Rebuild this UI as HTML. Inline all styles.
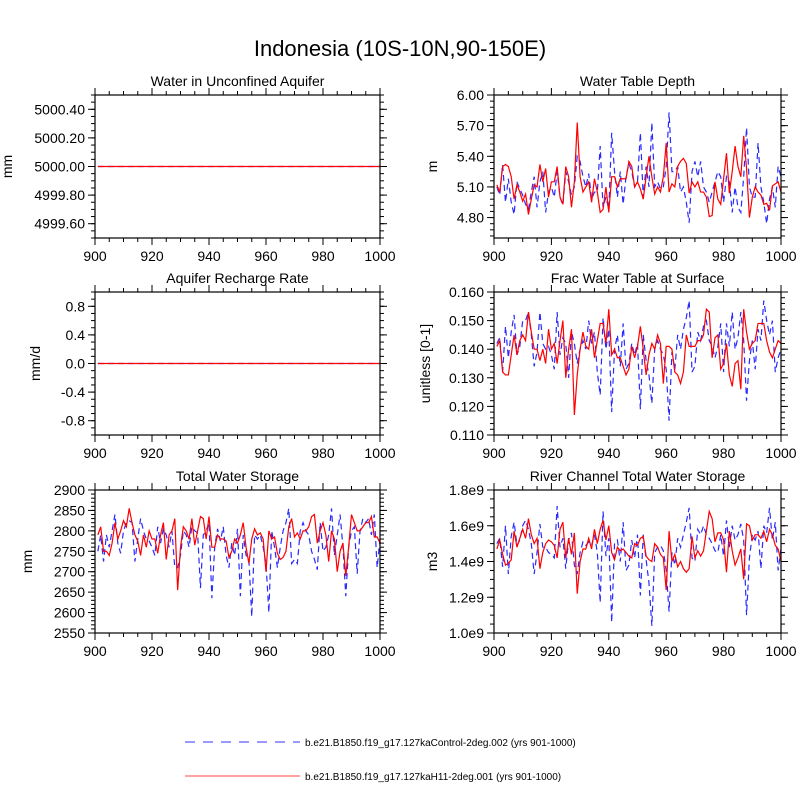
<!DOCTYPE html>
<html><head><meta charset="utf-8"><style>
html,body{margin:0;padding:0;background:#fff}
svg{display:block;font-family:"Liberation Sans",sans-serif}
</style></head><body>
<svg id="chart" width="800" height="800" viewBox="0 0 800 800">
<text x="400" y="56" font-size="22" text-anchor="middle">Indonesia (10S-10N,90-150E)</text>
<g>
<line x1="185" y1="742" x2="300" y2="742" stroke="#3333ff" stroke-width="1" stroke-dasharray="10,8"/>
<text x="305" y="746" font-size="10">b.e21.B1850.f19_g17.127kaControl-2deg.002 (yrs 901-1000)</text>
<line x1="185" y1="776" x2="300" y2="776" stroke="#ff4444" stroke-width="1"/>
<text x="305" y="780" font-size="10">b.e21.B1850.f19_g17.127kaH11-2deg.001 (yrs 901-1000)</text>
</g>
</svg>
<script>
const years = Array.from({length:100},(_,i)=>901+i);
const xTicks = [900,920,940,960,980,1000];
const aquiferRed = Array(100).fill(5000);
const aquiferBlue = Array(100).fill(5000);
const rechargeRed = Array(100).fill(0);
const rechargeBlue = Array(100).fill(0);
const wtdRed = [5.12,5.05,5.3,5.32,5.3,5.2,4.98,5.12,5.05,4.96,5.03,4.83,4.98,5.12,5.1,5.32,5.15,5.28,5.0,5.15,5.15,5.3,5.0,4.93,5.3,5.2,4.9,5.15,5.73,5.2,5.05,5.1,5.15,4.95,5.18,5.05,4.85,4.88,5.1,4.85,5.2,5.2,5.1,5.18,5.18,5.18,5.35,5.3,5.1,5.15,5.08,4.98,5.2,5.4,5.2,5.03,5.1,5.05,5.2,5.53,5.05,5.13,5.1,5.3,5.35,5.38,5.33,5.04,5.15,5.1,5.15,5.05,5.05,5.0,4.81,4.82,5.15,4.98,4.93,5.18,5.43,5.04,5.25,5.5,5.3,5.2,5.6,5.28,4.8,5.0,5.1,5.05,5.02,4.93,4.94,4.87,5.11,5.13,5.15,5.05];
const wtdBlue = [5.1,5.02,5.32,4.95,5.18,4.95,4.83,5.15,5.08,5.02,4.93,4.88,5.05,5.2,4.9,5.15,5.25,4.85,5.05,5.1,5.0,5.25,5.0,4.92,5.25,5.15,5.02,5.1,5.4,5.35,5.2,5.1,5.23,4.98,5.05,5.05,5.5,4.9,5.0,4.88,5.63,5.25,5.0,5.25,4.93,5.2,5.33,5.25,5.1,5.15,5.63,5.0,5.3,5.1,5.73,5.1,5.15,5.08,5.1,5.3,5.83,5.25,5.25,5.3,5.05,5.1,4.95,4.75,5.25,5.35,5.2,5.35,5.1,5.05,4.95,5.05,5.15,5.25,5.2,4.95,5.2,5.15,4.85,5.1,4.9,4.85,5.2,5.68,5.1,5.0,5.0,5.53,5.1,4.95,4.74,4.98,5.1,4.9,5.3,5.2];
const fracRed = [0.141,0.143,0.132,0.131,0.131,0.138,0.145,0.138,0.143,0.145,0.143,0.153,0.146,0.140,0.140,0.136,0.140,0.135,0.147,0.140,0.142,0.135,0.143,0.150,0.130,0.140,0.147,0.117,0.131,0.140,0.146,0.141,0.140,0.147,0.137,0.143,0.149,0.149,0.142,0.154,0.138,0.140,0.137,0.137,0.134,0.131,0.133,0.141,0.137,0.141,0.148,0.140,0.131,0.138,0.142,0.140,0.145,0.142,0.128,0.141,0.141,0.140,0.132,0.131,0.128,0.132,0.145,0.141,0.141,0.141,0.143,0.143,0.145,0.154,0.153,0.137,0.144,0.145,0.133,0.135,0.142,0.131,0.127,0.135,0.136,0.126,0.154,0.146,0.140,0.142,0.143,0.149,0.149,0.149,0.143,0.139,0.137,0.140,0.143,0.142];
const fracBlue = [0.142,0.144,0.132,0.148,0.137,0.146,0.152,0.138,0.141,0.150,0.150,0.153,0.145,0.134,0.139,0.153,0.142,0.140,0.141,0.138,0.133,0.153,0.138,0.144,0.142,0.130,0.146,0.142,0.135,0.140,0.143,0.140,0.150,0.142,0.146,0.132,0.124,0.151,0.140,0.147,0.118,0.140,0.145,0.134,0.149,0.133,0.135,0.142,0.138,0.142,0.119,0.145,0.136,0.131,0.121,0.140,0.143,0.140,0.138,0.133,0.115,0.139,0.133,0.145,0.140,0.147,0.151,0.157,0.132,0.134,0.146,0.143,0.148,0.150,0.143,0.141,0.137,0.141,0.149,0.132,0.149,0.141,0.153,0.140,0.144,0.153,0.143,0.122,0.136,0.143,0.133,0.147,0.143,0.157,0.150,0.145,0.150,0.132,0.137,0.140];
const twsRed = [2790,2810,2750,2750,2740,2770,2820,2780,2800,2825,2810,2855,2820,2790,2775,2740,2790,2760,2800,2780,2780,2745,2790,2820,2730,2790,2800,2830,2655,2760,2810,2800,2780,2830,2765,2800,2835,2830,2780,2835,2760,2760,2790,2780,2780,2775,2735,2750,2780,2770,2790,2820,2760,2720,2780,2805,2790,2795,2780,2700,2800,2780,2785,2745,2730,2735,2750,2810,2830,2785,2795,2780,2800,2800,2810,2835,2840,2770,2800,2820,2790,2725,2800,2780,2700,2750,2770,2690,2760,2840,2820,2800,2800,2810,2820,2820,2835,2785,2785,2770];
const twsBlue = [2750,2790,2725,2790,2760,2800,2840,2770,2745,2800,2820,2825,2820,2725,2780,2830,2800,2780,2775,2760,2740,2810,2770,2805,2790,2760,2800,2710,2710,2740,2800,2790,2760,2810,2800,2795,2660,2790,2800,2820,2635,2760,2805,2775,2810,2740,2710,2770,2740,2805,2640,2790,2740,2730,2590,2790,2780,2790,2760,2720,2600,2800,2760,2710,2760,2800,2820,2855,2720,2730,2720,2800,2820,2800,2790,2750,2730,2705,2820,2750,2760,2790,2855,2740,2790,2840,2760,2640,2760,2800,2810,2695,2800,2830,2820,2830,2790,2840,2710,2780];
const riverRed = [1.47,1.52,1.44,1.38,1.39,1.41,1.57,1.48,1.53,1.58,1.53,1.64,1.55,1.50,1.53,1.36,1.45,1.50,1.52,1.51,1.49,1.42,1.58,1.62,1.42,1.53,1.44,1.56,1.22,1.40,1.47,1.47,1.53,1.47,1.58,1.50,1.58,1.63,1.52,1.60,1.45,1.41,1.48,1.46,1.47,1.45,1.43,1.42,1.50,1.49,1.53,1.54,1.43,1.41,1.40,1.50,1.48,1.44,1.42,1.24,1.57,1.40,1.44,1.37,1.40,1.36,1.34,1.36,1.54,1.42,1.46,1.43,1.46,1.57,1.68,1.64,1.51,1.56,1.56,1.52,1.34,1.57,1.46,1.38,1.42,1.47,1.30,1.61,1.60,1.52,1.55,1.55,1.53,1.57,1.51,1.58,1.55,1.49,1.47,1.40];
const riverBlue = [1.50,1.53,1.37,1.60,1.33,1.54,1.62,1.49,1.52,1.60,1.63,1.58,1.50,1.33,1.45,1.61,1.48,1.48,1.45,1.44,1.42,1.71,1.48,1.53,1.36,1.52,1.56,1.38,1.33,1.45,1.51,1.49,1.51,1.49,1.55,1.45,1.17,1.68,1.43,1.53,1.06,1.50,1.52,1.40,1.62,1.35,1.38,1.52,1.42,1.55,1.21,1.55,1.41,1.28,1.04,1.45,1.48,1.49,1.46,1.35,1.12,1.45,1.38,1.53,1.48,1.55,1.62,1.70,1.42,1.40,1.58,1.55,1.60,1.55,1.53,1.50,1.46,1.45,1.55,1.43,1.63,1.48,1.60,1.52,1.55,1.61,1.52,1.10,1.42,1.55,1.52,1.57,1.36,1.60,1.56,1.70,1.52,1.62,1.35,1.47];
const aquiferTicks = [4999.6,4999.8,5000.0,5000.2,5000.4];
const aquiferTickLabels = ["4999.60","4999.80","5000.00","5000.20","5000.40"];
const rechargeTicks = [-0.8,-0.4,0,0.4,0.8];
const rechargeTickLabels = ["-0.8","-0.4","0.0","0.4","0.8"];
const wtdTicks = [4.8,5.1,5.4,5.7,6.0];
const wtdTickLabels = ["4.80","5.10","5.40","5.70","6.00"];
const fracTicks = [0.11,0.12,0.13,0.14,0.15,0.16];
const fracTickLabels = ["0.110","0.120","0.130","0.140","0.150","0.160"];
const twsTicks = [2550,2600,2650,2700,2750,2800,2850,2900];
const twsTickLabels = ["2550","2600","2650","2700","2750","2800","2850","2900"];
const riverTicks = [1.0,1.2,1.4,1.6,1.8];
const riverTickLabels = ["1.0e9","1.2e9","1.4e9","1.6e9","1.8e9"];

const NS='http://www.w3.org/2000/svg';
const svg=document.getElementById('chart');
function mk(tag,attrs,parent){const e=document.createElementNS(NS,tag);for(const k in attrs)e.setAttribute(k,attrs[k]);(parent||svg).appendChild(e);return e;}

function panel(cfg){
  const g=mk('g',{});
  
  
  const L=cfg.x0,R=cfg.x1,T=cfg.y0,B=cfg.y1;
  const xs=v=>L+(v-900)/100*(R-L);
  const ys=v=>B-(v-cfg.ymin)/(cfg.ymax-cfg.ymin)*(B-T);
  const t=mk('text',{x:(L+R)/2,y:T-9,'font-size':14,'text-anchor':'middle'},g);
  t.textContent=cfg.title;
  
  
  // ticks
  for(let yr=900;yr<=1000;yr+=5){
    const maj=yr%20===0, len=maj?7:4, x=xs(yr);
    mk('line',{x1:x,y1:B,x2:x,y2:B+len,stroke:'#000','stroke-width':1},g);
    mk('line',{x1:x,y1:T,x2:x,y2:T-len,stroke:'#000','stroke-width':1},g);
  }
  xTicks.forEach(v=>{
    const tx=mk('text',{x:xs(v),y:B+23,'font-size':14,'text-anchor':'middle'},g);
    tx.textContent=String(v);
    
    
  });
  const step=cfg.ticks[1]-cfg.ticks[0], ms=step/cfg.minor;
  for(let v=cfg.ticks[0]-step*3; v<=cfg.ymax+1e-9; v+=ms){
    if(v<cfg.ymin-1e-9) continue;
    const y=ys(v);
    mk('line',{x1:L,y1:y,x2:L-4,y2:y,stroke:'#000','stroke-width':1},g);
    mk('line',{x1:R,y1:y,x2:R+4,y2:y,stroke:'#000','stroke-width':1},g);
  }
  cfg.ticks.forEach((v,i)=>{
    const y=ys(v);
    mk('line',{x1:L,y1:y,x2:L-7,y2:y,stroke:'#000','stroke-width':1},g);
    mk('line',{x1:R,y1:y,x2:R+7,y2:y,stroke:'#000','stroke-width':1},g);
    const ty=mk('text',{x:L-10,y:y+5,'font-size':14,'text-anchor':'end'},g);
    ty.textContent=cfg.labels[i];
    
    
  });
  const yl=mk('text',{x:0,y:0,'font-size':14,'text-anchor':'middle',transform:`translate(${cfg.ylx},${(T+B)/2}) rotate(-90)`},g);
  yl.textContent=cfg.ylabel;
  
  
  const line=(data,color,dash,nm)=>{
    const p=mk('polyline',{points:data.map((v,i)=>xs(years[i]).toFixed(2)+','+ys(v).toFixed(2)).join(' '),fill:'none',stroke:color,'stroke-width':1.2,'stroke-dasharray':dash},g);
    
    
  };
  line(cfg.blue,'#2a2aff','6,4',cfg.name+'-control-series');
  line(cfg.red,'#ff0000','none',cfg.name+'-h11-series');
  const f=mk('rect',{x:L,y:T,width:R-L,height:B-T,fill:'none',stroke:'#000','stroke-width':1.2},g);
  
  
}
const LX=[95,380], RX=[494,781], R1=[95,238], R2=[292,435], R3=[490,633];
panel({name:'aquifer-water',title:'Water in Unconfined Aquifer',x0:LX[0],x1:LX[1],y0:R1[0],y1:R1[1],ymin:4999.5,ymax:5000.5,ticks:aquiferTicks,labels:aquiferTickLabels,minor:4,ylabel:'mm',ylx:12,red:aquiferRed,blue:aquiferBlue});
panel({name:'water-table-depth',title:'Water Table Depth',x0:RX[0],x1:RX[1],y0:R1[0],y1:R1[1],ymin:4.6,ymax:6.0,ticks:wtdTicks,labels:wtdTickLabels,minor:5,ylabel:'m',ylx:437,red:wtdRed,blue:wtdBlue});
panel({name:'aquifer-recharge',title:'Aquifer Recharge Rate',x0:LX[0],x1:LX[1],y0:R2[0],y1:R2[1],ymin:-1,ymax:1,ticks:rechargeTicks,labels:rechargeTickLabels,minor:4,ylabel:'mm/d',ylx:40,red:rechargeRed,blue:rechargeBlue});
panel({name:'frac-water-table',title:'Frac Water Table at Surface',x0:RX[0],x1:RX[1],y0:R2[0],y1:R2[1],ymin:0.11,ymax:0.16,ticks:fracTicks,labels:fracTickLabels,minor:5,ylabel:'unitless [0-1]',ylx:430,red:fracRed,blue:fracBlue});
panel({name:'total-water-storage',title:'Total Water Storage',x0:LX[0],x1:LX[1],y0:R3[0],y1:R3[1],ymin:2550,ymax:2900,ticks:twsTicks,labels:twsTickLabels,minor:5,ylabel:'mm',ylx:32,red:twsRed,blue:twsBlue});
panel({name:'river-storage',title:'River Channel Total Water Storage',x0:RX[0],x1:RX[1],y0:R3[0],y1:R3[1],ymin:1.0,ymax:1.8,ticks:riverTicks,labels:riverTickLabels,minor:4,ylabel:'m3',ylx:437,red:riverRed,blue:riverBlue});
</script>
</body></html>
